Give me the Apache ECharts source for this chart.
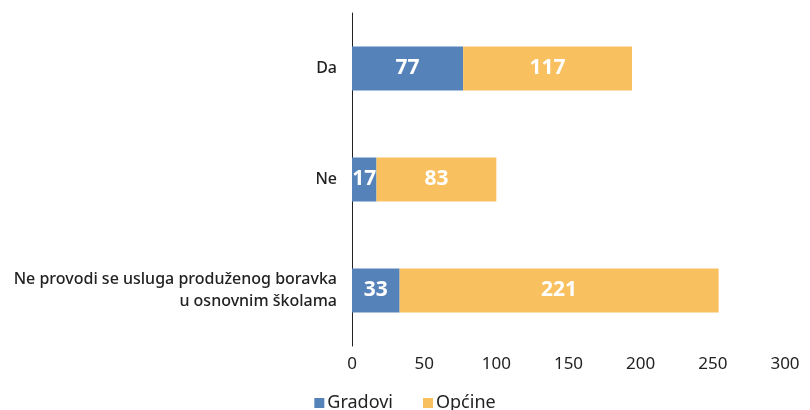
<!DOCTYPE html>
<html>
<head>
<meta charset="utf-8">
<script src="https://cdn.jsdelivr.net/npm/echarts@6/dist/echarts.min.js"></script>
<style>
  html, body { margin: 0; padding: 0; background: #fff; }
  #chart { width: 810px; height: 410px; }
</style>
</head>
<body>
<div id="chart"></div>
<script>
var categories = ['Da', 'Ne', 'Ne provodi se usluga produženog boravka\nu osnovnim školama'];
var gradovi = [77, 17, 33];
var opcine = [117, 83, 221];
var xTicks = [0, 300, 50];

var chart = echarts.init(document.getElementById('chart'));
var font = '"Noto Sans", sans-serif';

var labelStyle = {
    show: true,
    position: 'inside',
    color: '#fff',
    fontSize: 21,
    fontWeight: 'bold',
    fontFamily: font
};

chart.setOption({
    animation: false,
    textStyle: {fontFamily: font},
    grid: {left: 352, right: 25, top: 13, bottom: 64},
    legend: {
        top: 389,
        left: 'center',
        itemWidth: 10,
        itemHeight: 10,
        itemGap: 30,
        icon: 'rect',
        textStyle: {fontSize: 18, color: '#222', fontFamily: font, padding: [0, 0, 0, -2]},
        data: ['Gradovi', 'Općine']
    },
    xAxis: {
        type: 'value',
        min: xTicks[0],
        max: xTicks[1],
        interval: xTicks[2],
        axisLine: {show: false},
        axisTick: {show: false},
        splitLine: {show: false},
        axisLabel: {fontSize: 17, color: '#222', margin: 10}
    },
    yAxis: {
        type: 'category',
        inverse: true,
        data: categories,
        axisLine: {show: true, lineStyle: {color: '#222', width: 1}},
        axisTick: {show: false},
        axisLabel: {fontSize: 16, color: '#222', fontWeight: 500, margin: 15, lineHeight: 22, align: 'right'}
    },
    series: [
        {
            name: 'Gradovi',
            type: 'bar',
            stack: 'total',
            barWidth: 44,
            itemStyle: {color: '#5682ba'},
            label: labelStyle,
            data: gradovi
        },
        {
            name: 'Općine',
            type: 'bar',
            stack: 'total',
            barWidth: 44,
            itemStyle: {color: '#f9c05f'},
            label: labelStyle,
            data: opcine
        }
    ]
});
</script>
</body>
</html>
